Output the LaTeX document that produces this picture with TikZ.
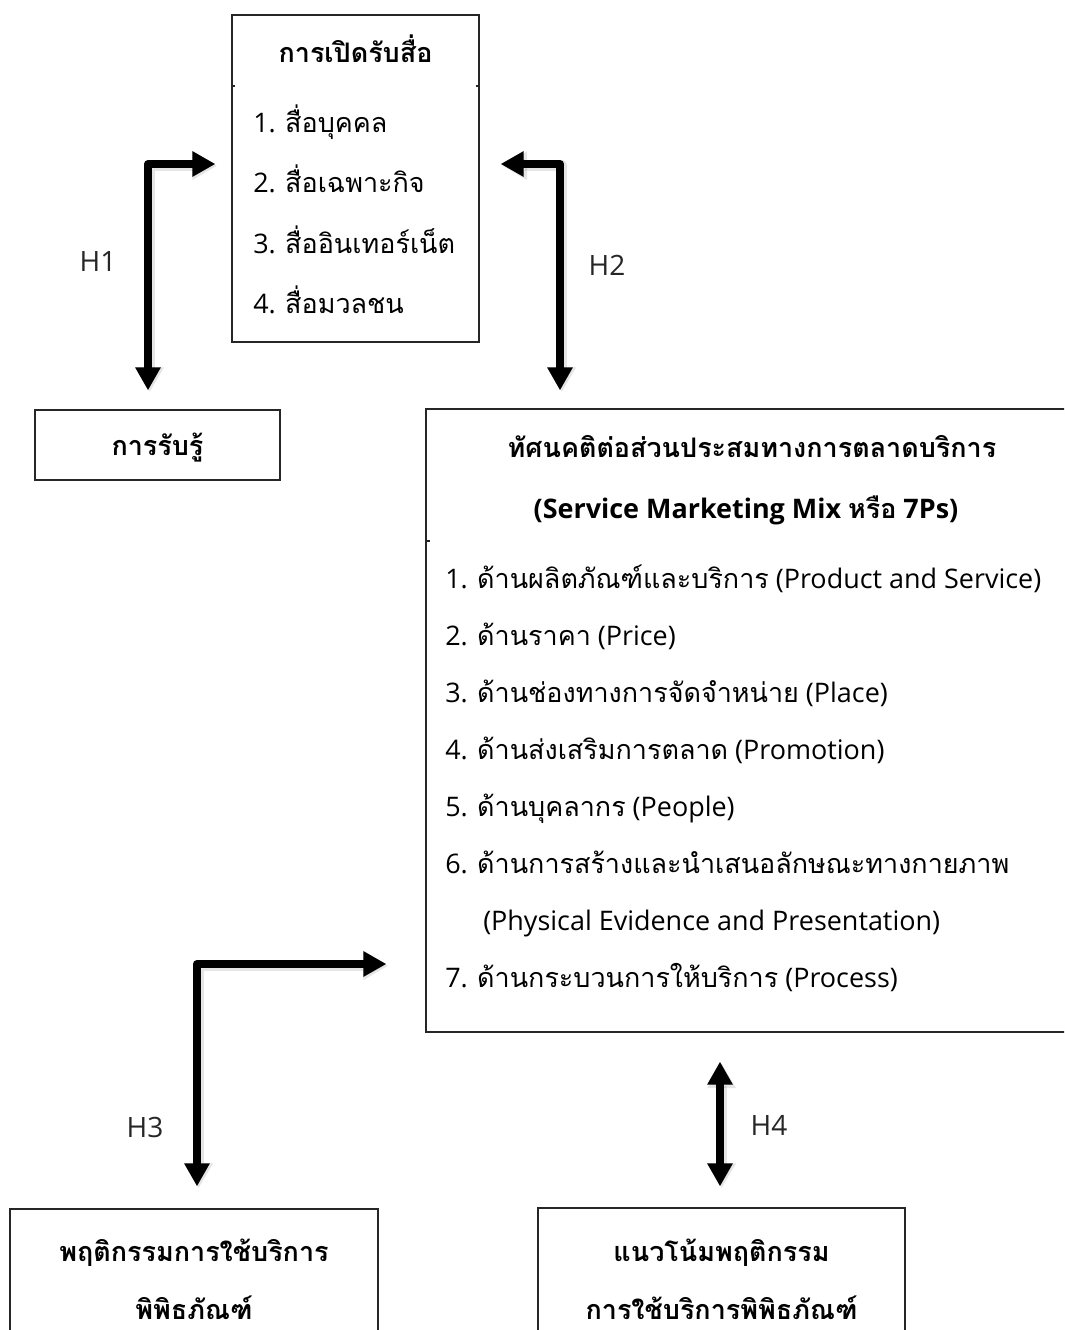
\documentclass[tikz,border=0pt]{standalone}
\usepackage{fontspec}
\setmainfont{Open Sans}
\newfontfamily\thai[Script=Thai]{Loma}
\usetikzlibrary{arrows.meta,calc}
\newcommand{\T}[1]{{\thai #1}}

\tikzset{
  frame/.style={draw=black!85, line width=0.9pt, inner sep=0pt},
  txt/.style={inner sep=0pt, anchor=base west, font=\fontsize{20.2}{23}\selectfont},
  ttl/.style={inner sep=0pt, anchor=base, font=\fontsize{20.2}{23}\selectfont\bfseries},
  hlab/.style={inner sep=0pt, text=black!85, font=\fontsize{21}{24}\selectfont},
  twoway/.style={line width=6pt, line join=round,
    arrows={{Triangle[length=17.25pt,width=18pt]}-{Triangle[length=17.25pt,width=18pt]}}},
  haze/.style={draw=black, opacity=0.10, line width=8pt, line join=round,
    arrows={{Triangle[length=18.5pt,width=20pt]}-{Triangle[length=18.5pt,width=20pt]}},
    transform canvas={xshift=1.3pt, yshift=-1.3pt}},
}

\begin{document}
\begin{tikzpicture}[x=0.75pt, y=-0.75pt]
\clip (0,0) rectangle (1064,1330);
\fill[white] (0,0) rectangle (1064,1330);

% ---------- boxes ----------
\node[frame, minimum width=185.25pt, minimum height=245.25pt] (media) at (355.5,178.5) {};
\node[frame, minimum width=183.75pt, minimum height=52.5pt] (perc) at (157.5,445) {};
\node[frame, minimum width=486pt, minimum height=467.25pt] (att) at (750,720.5) {};
\node[frame, minimum width=276pt, minimum height=143.25pt] (behav) at (194,1304.5) {};
\node[frame, minimum width=275.25pt, minimum height=144pt] (trend) at (721.5,1304) {};

% small cell-split stubs on the frames
\draw[black!85, line width=0.9pt] (232,86) -- +(3,0);
\draw[black!85, line width=0.9pt] (479,86) -- +(-3,0);
\draw[black!85, line width=0.9pt] (426,541) -- +(4,0);

% ---------- texts: media exposure ----------
\node[ttl] (mediaT) at (355.5,63) {\T{การเปิดรับสื่อ}};
\node[txt] (m1) at (253,133) {1. \T{สื่อบุคคล}};
\node[txt] (m2) at (253,193) {2. \T{สื่อเฉพาะกิจ}};
\node[txt] (m3) at (253,253) {3. \T{สื่ออินเทอร์เน็ต}};
\node[txt] (m4) at (253,313) {4. \T{สื่อมวลชน}};

\node[ttl] (percT) at (157.5,455) {\T{การรับรู้}};

% ---------- texts: attitude towards 7Ps ----------
\node[ttl] (attT1) at (752,457) {\T{ทัศนคติต่อส่วนประสมทางการตลาดบริการ}};
\node[ttl] (attT2) at (746,518) {(Service Marketing Mix \T{หรือ} 7Ps)};
\node[txt] (a1) at (445,588) {1. \T{ด้านผลิตภัณฑ์และบริการ} (Product and Service)};
\node[txt] (a2) at (445,645) {2. \T{ด้านราคา} (Price)};
\node[txt] (a3) at (445,702) {3. \T{ด้านช่องทางการจัดจำหน่าย} (Place)};
\node[txt] (a4) at (445,759) {4. \T{ด้านส่งเสริมการตลาด} (Promotion)};
\node[txt] (a5) at (445,816) {5. \T{ด้านบุคลากร} (People)};
\node[txt] (a6) at (445,873) {6. \T{ด้านการสร้างและนำเสนอลักษณะทางกายภาพ}};
\node[txt] (a6b) at (483,930) {(Physical Evidence and Presentation)};
\node[txt] (a7) at (445,987) {7. \T{ด้านกระบวนการให้บริการ} (Process)};

% ---------- texts: bottom boxes ----------
\node[ttl] (behT1) at (194,1261) {\T{พฤติกรรมการใช้บริการ}};
\node[ttl, text depth=0pt] (behT2) at (194,1319) {\T{พิพิธภัณฑ์}};
\node[ttl] (trT1) at (721.5,1261) {\T{แนวโน้มพฤติกรรม}};
\node[ttl, text depth=0pt] (trT2) at (721.5,1319) {\T{การใช้บริการพิพิธภัณฑ์}};

% ---------- hypothesis labels ----------
\node[hlab] (h1) at (98,262) {H1};
\node[hlab] (h2) at (607,265) {H2};
\node[hlab] (h3) at (145,1127) {H3};
\node[hlab] (h4) at (769,1125) {H4};

% ---------- connectors ----------
\coordinate (c1) at (148,164);
\coordinate (c2) at (560,164);
\coordinate (c3) at (197,964);
\coordinate (c4) at (720,1124);

\foreach \sty in {haze,twoway}{
  \draw[\sty] ([xshift=-12pt]media.west |- c1) -- (c1) -- ([yshift=14.25pt]c1 |- perc.north);
  \draw[\sty] ([xshift=15.75pt]media.east |- c2) -- (c2) -- ([yshift=13.5pt]c2 |- att.north);
  \draw[\sty] ([xshift=-29.25pt]att.west |- c3) -- (c3) -- ([yshift=16.5pt]c3 |- behav.north);
  \draw[\sty] ([yshift=-21.75pt]c4 |- att.south) -- ([yshift=15.75pt]c4 |- trend.north);
}
\end{tikzpicture}
\end{document}
